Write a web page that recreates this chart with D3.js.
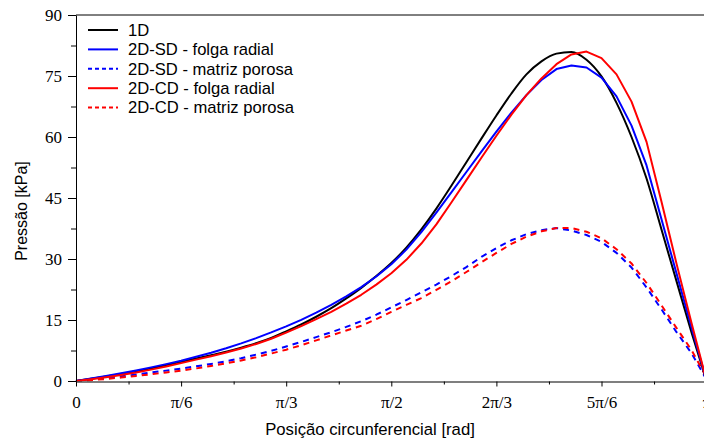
<!DOCTYPE html>
<html>
<head>
<meta charset="utf-8">
<script src="https://cdn.jsdelivr.net/npm/d3@7"></script>
<style>
  html, body { margin: 0; padding: 0; background: #fff; }
  svg { display: block; }
</style>
</head>
<body>
<div id="chart"></div>
<script>
// Circumferential position (degrees, 0..180 = 0..π)
const angleDeg = [0, 4.2857, 8.5714, 12.857, 17.143, 21.429, 25.714, 30, 34.286, 38.571,
  42.857, 47.143, 51.429, 55.714, 60, 64.286, 68.571, 72.857, 77.143, 81.429,
  85.714, 90, 94.286, 98.571, 102.857, 107.143, 111.429, 115.714, 120, 124.286,
  128.571, 132.857, 137.143, 141.429, 145.714, 150, 154.286, 158.571, 162.857, 167.143,
  171.429, 175.714, 180];

// Pressure [kPa]
const press1D = [0, 0.55, 1.12, 1.72, 2.38, 3.1, 3.88, 4.72, 5.55, 6.35,
  7.2, 8.2, 9.3, 10.6, 12.2, 13.9, 15.8, 17.9, 20.3, 22.9,
  25.8, 29.0, 32.8, 37.3, 42.4, 48.0, 53.8, 59.6, 65.3, 70.7,
  75.4, 78.6, 80.5, 80.9, 79.0, 74.9, 68.4, 60.0, 49.8, 37.2,
  24.5, 11.9, 0];

const press2DSDFolga = [0, 0.6, 1.22, 1.88, 2.6, 3.35, 4.15, 5.0, 5.95, 6.95,
  8.05, 9.25, 10.55, 11.95, 13.45, 15.05, 16.8, 18.7, 20.8, 23.1,
  25.7, 28.7, 32.3, 36.6, 41.4, 46.4, 51.4, 56.4, 61.3, 66.0,
  70.3, 74.0, 76.7, 77.6, 77.1, 74.6, 70.0, 62.8, 53.0, 39.7,
  26.4, 13.1, 0];

const press2DSDMatriz = [0, 0.3, 0.7, 1.15, 1.6, 2.1, 2.55, 3.05, 3.6, 4.2,
  4.85, 5.6, 6.5, 7.4, 8.5, 9.6, 10.8, 12.0, 13.3, 14.7,
  16.3, 18.1, 19.9, 21.8, 23.7, 25.8, 28.0, 30.5, 32.7, 34.6,
  36.1, 37.1, 37.6, 37.0, 35.9, 34.2, 31.5, 27.9, 23.0, 17.6,
  12.0, 6.8, 0.3];

const press2DCDFolga = [0, 0.45, 0.95, 1.5, 2.1, 2.8, 3.55, 4.4, 5.25, 6.1,
  7.0, 8.0, 9.1, 10.4, 11.9, 13.5, 15.2, 17.0, 19.0, 21.2,
  23.7, 26.5, 29.8, 33.8, 38.5, 43.9, 49.4, 54.9, 60.3, 65.5,
  70.3, 74.4, 77.9, 80.3, 81.0, 79.4, 75.4, 68.7, 58.8, 44.0,
  28.8, 14.2, 0];

const press2DCDMatriz = [0, 0.2, 0.5, 0.85, 1.25, 1.65, 2.1, 2.55, 3.1, 3.7,
  4.35, 5.05, 5.85, 6.75, 7.7, 8.8, 10.0, 11.2, 12.4, 13.6,
  15.2, 17.0, 18.7, 20.4, 22.4, 24.5, 26.8, 29.2, 31.5, 33.7,
  35.5, 36.8, 37.6, 37.6, 36.7, 35.1, 32.4, 28.9, 24.1, 18.6,
  13.0, 7.6, 0.8];

const seriesNames = ["1D", "2D-SD - folga radial", "2D-SD - matriz porosa",
  "2D-CD - folga radial", "2D-CD - matriz porosa"];

const xTickValues = [0, 30, 60, 90, 120, 150, 180];
const xTickLabels = ["0", "π/6", "π/3", "π/2", "2π/3", "5π/6", "π"];
const xMinorTicks = [15, 45, 75, 105, 135, 165];
const yTickValues = [0, 15, 30, 45, 60, 75, 90];
const yMinorTicks = [7.5, 22.5, 37.5, 52.5, 67.5, 82.5];

const W = 704, H = 439;
const margin = { left: 76, top: 15 };
const plotW = 630.6, plotH = 366;

const svg = d3.select("#chart").append("svg")
  .attr("width", W).attr("height", H);

const x = d3.scaleLinear().domain([0, 180]).range([margin.left, margin.left + plotW]);
const y = d3.scaleLinear().domain([0, 90]).range([margin.top + plotH, margin.top]);

const series = [
  { name: seriesNames[0], values: press1D, color: "#000000", dash: null, curve: d3.curveMonotoneX },
  { name: seriesNames[1], values: press2DSDFolga, color: "#0000ff", dash: null, curve: d3.curveLinear },
  { name: seriesNames[2], values: press2DSDMatriz, color: "#0000ff", dash: "6,5", curve: d3.curveLinear },
  { name: seriesNames[3], values: press2DCDFolga, color: "#ff0000", dash: null, curve: d3.curveLinear },
  { name: seriesNames[4], values: press2DCDMatriz, color: "#ff0000", dash: "6,5", curve: d3.curveLinear }
];

// Frame (top and right edges)
svg.append("path")
  .attr("d", `M${x(0)},${y(90)}H${x(180)}V${y(0)}`)
  .attr("fill", "none").attr("stroke", "#000").attr("stroke-width", 1);

// Curves, drawn so the solid lines sit over the dashed ones
const drawOrder = [2, 4, 0, 1, 3];
drawOrder.forEach(i => {
  const s = series[i];
  const line = d3.line()
    .x((d, k) => x(angleDeg[k]))
    .y(d => y(d))
    .curve(s.curve);
  svg.append("path")
    .datum(s.values)
    .attr("d", line)
    .attr("fill", "none")
    .attr("stroke", s.color)
    .attr("stroke-width", 2)
    .attr("stroke-dasharray", s.dash)
    .attr("stroke-linejoin", "round");
});

// Axes
const serif = "'Liberation Serif', 'Times New Roman', serif";
const sans = "'Liberation Sans', Arial, sans-serif";

const xAxis = svg.append("g")
  .attr("transform", `translate(0,${y(0) + 0.5})`)
  .call(d3.axisBottom(x).tickValues(xTickValues)
    .tickFormat((d, i) => xTickLabels[i]).tickSize(5).tickPadding(9).tickSizeOuter(0));
xAxis.select(".domain").attr("stroke", "#555").attr("stroke-width", 1.6);
xAxis.selectAll("text").attr("font-family", serif).attr("font-size", 17).attr("fill", "#000");

svg.append("g")
  .attr("transform", `translate(0,${y(0) + 0.5})`)
  .call(d3.axisBottom(x).tickValues(xMinorTicks).tickFormat("").tickSize(3).tickSizeOuter(0))
  .select(".domain").remove();

const yAxis = svg.append("g")
  .attr("transform", `translate(${x(0)},0)`)
  .call(d3.axisLeft(y).tickValues(yTickValues).tickSize(8).tickPadding(6).tickSizeOuter(0));
yAxis.select(".domain").attr("stroke", "#000");
yAxis.selectAll("text").attr("font-family", serif).attr("font-size", 17).attr("fill", "#000");

svg.append("g")
  .attr("transform", `translate(${x(0)},0)`)
  .call(d3.axisLeft(y).tickValues(yMinorTicks).tickFormat("").tickSize(5).tickSizeOuter(0))
  .select(".domain").remove();

// Axis titles
svg.append("text")
  .attr("x", 370).attr("y", 435)
  .attr("text-anchor", "middle")
  .attr("font-family", sans).attr("font-size", 16.7)
  .text("Posição circunferencial [rad]");

svg.append("text")
  .attr("transform", "translate(27,211) rotate(-90)")
  .attr("text-anchor", "middle")
  .attr("font-family", sans).attr("font-size", 16)
  .text("Pressão [kPa]");

// Legend
const legend = svg.append("g");
series.forEach((s, i) => {
  const cy = 30 + i * 19.4;
  legend.append("line")
    .attr("x1", 88).attr("x2", 118).attr("y1", cy).attr("y2", cy)
    .attr("stroke", s.color).attr("stroke-width", 2)
    .attr("stroke-dasharray", s.dash ? "4,3" : null);
  legend.append("text")
    .attr("x", 128).attr("y", cy)
    .attr("dy", "0.35em")
    .attr("font-family", sans).attr("font-size", 16.6)
    .text(s.name);
});
</script>
</body>
</html>
